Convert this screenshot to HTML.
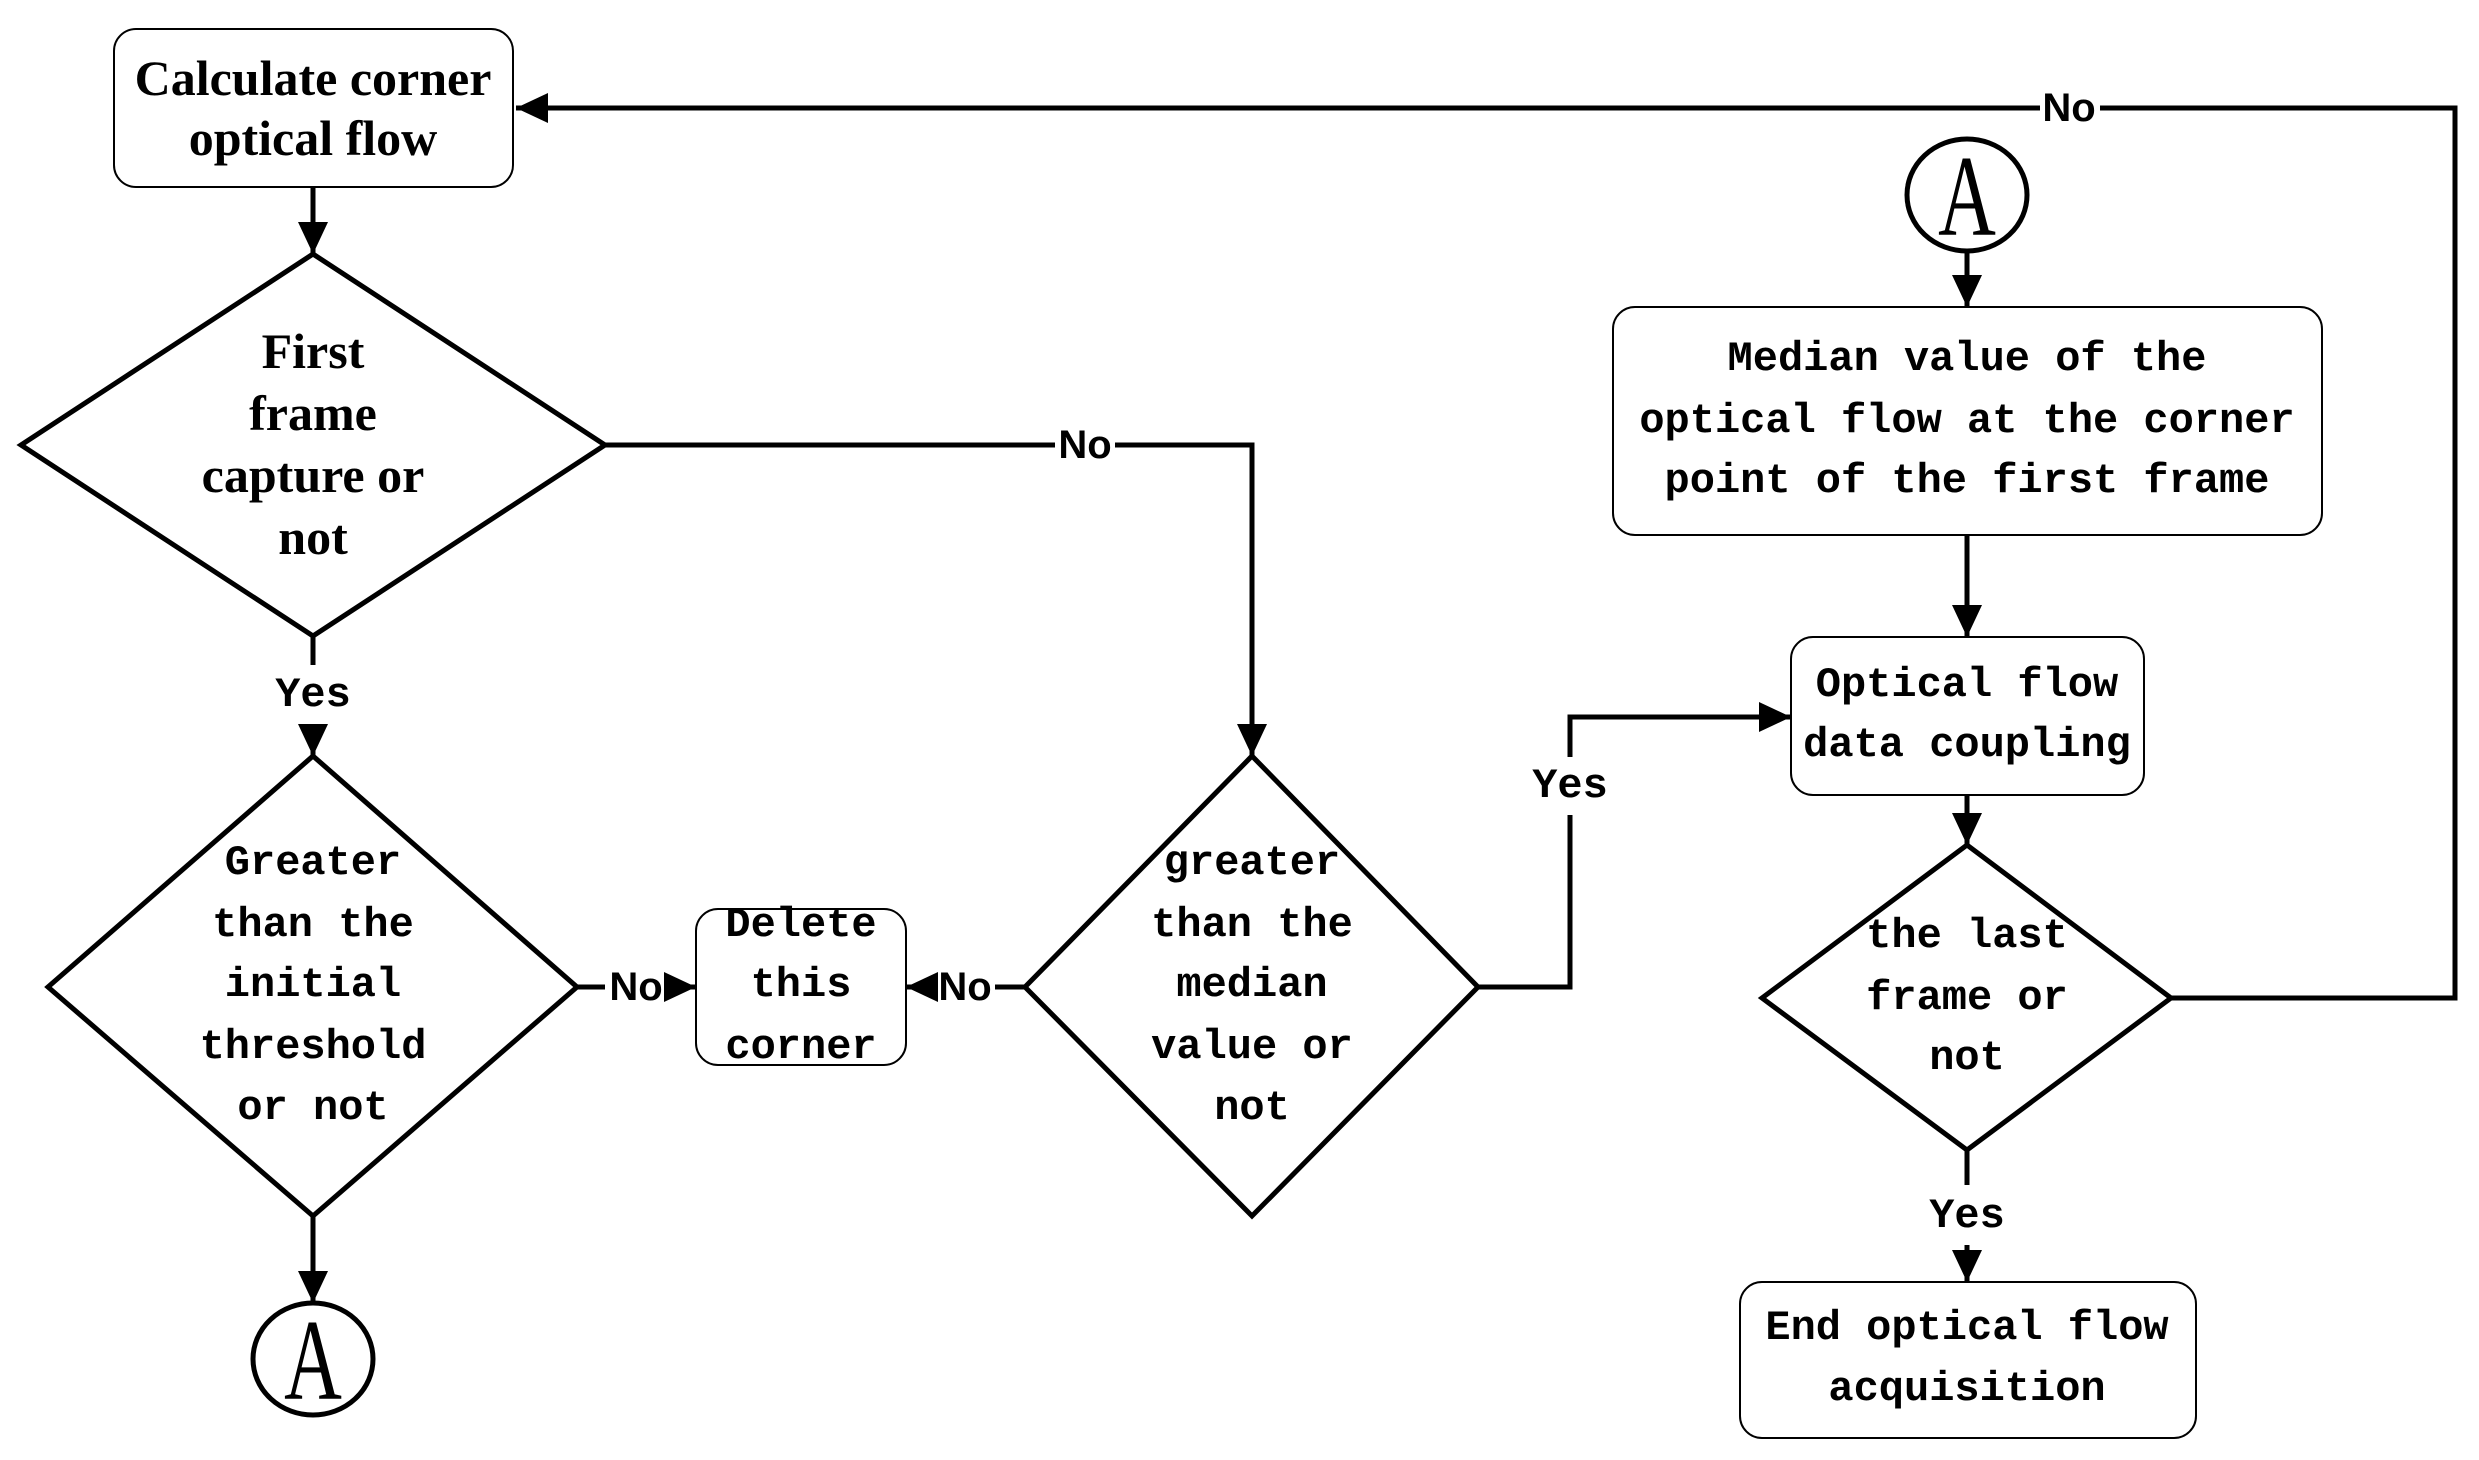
<!DOCTYPE html>
<html><head><meta charset="utf-8"><style>
html,body{margin:0;padding:0;background:#fff}
svg{display:block}
.s{font-family:"Liberation Serif",serif;font-weight:bold;font-size:50px}
.m{font-family:"Liberation Mono",monospace;font-weight:bold;font-size:42px}
.l{font-family:"Liberation Sans",sans-serif;font-weight:bold;font-size:40px}
</style></head><body>
<svg width="2479" height="1460" viewBox="0 0 2479 1460" xmlns="http://www.w3.org/2000/svg">
<defs>
<marker id="b" markerWidth="32" markerHeight="30" refX="32" refY="15" orient="auto" markerUnits="userSpaceOnUse"><path d="M0,0 L32,15 L0,30 z" fill="#000"/></marker></defs>
<g fill="none" stroke="#000" stroke-width="5">
<rect x="114" y="29" width="399" height="158" rx="22" stroke-width="2"/>
<rect x="696" y="909" width="210" height="156" rx="22" stroke-width="2"/>
<rect x="1613" y="307" width="709" height="228" rx="22" stroke-width="2"/>
<rect x="1791" y="637" width="353" height="158" rx="22" stroke-width="2"/>
<rect x="1740" y="1282" width="456" height="156" rx="22" stroke-width="2"/>
<polygon points="313,254 605,445 313,636 21,445"/>
<polygon points="313,756 577,987 313,1216 48,987"/>
<polygon points="1252,756 1478,987 1252,1216 1025,987"/>
<polygon points="1967,845 2171,998 1967,1150 1762,998"/>
<ellipse cx="313" cy="1359" rx="60" ry="56"/>
<ellipse cx="1967" cy="195" rx="60" ry="56"/>
<path d="M2171,998 H2455 V108 H2100 M2040,108 H516" marker-end="url(#b)"/>
<path d="M313,187 V254" marker-end="url(#b)"/>
<path d="M605,445 H1055 M1115,445 H1252 V756" marker-end="url(#b)"/>
<path d="M313,636 V665 M313,725 V756" marker-end="url(#b)"/>
<path d="M313,1216 V1303" marker-end="url(#b)"/>
<path d="M577,987 H605 M666,987 H696" marker-end="url(#b)"/>
<path d="M1025,987 H995 M935,987 H906" marker-end="url(#b)"/>
<path d="M1478,987 H1570 V815 M1570,757 V717 H1791" marker-end="url(#b)"/>
<path d="M1967,251 V307" marker-end="url(#b)"/>
<path d="M1967,535 V637" marker-end="url(#b)"/>
<path d="M1967,795 V845" marker-end="url(#b)"/>
<path d="M1967,1150 V1185 M1967,1245 V1282" marker-end="url(#b)"/>
</g>
<g text-anchor="middle" dominant-baseline="central">
<text class="s" x="313" y="78">Calculate corner</text>
<text class="s" x="313" y="138">optical flow</text>
<text class="s" x="313" y="351">First</text>
<text class="s" x="313" y="413">frame</text>
<text class="s" x="313" y="475">capture or</text>
<text class="s" x="313" y="537">not</text>
<text class="m" x="313" y="863">Greater</text>
<text class="m" x="313" y="925">than the</text>
<text class="m" x="313" y="985">initial</text>
<text class="m" x="313" y="1047">threshold</text>
<text class="m" x="313" y="1108">or not</text>
<text class="m" x="801" y="925">Delete</text>
<text class="m" x="801" y="985">this</text>
<text class="m" x="801" y="1047">corner</text>
<text class="m" x="1252" y="863">greater</text>
<text class="m" x="1252" y="925">than the</text>
<text class="m" x="1252" y="985">median</text>
<text class="m" x="1252" y="1047">value or</text>
<text class="m" x="1252" y="1108">not</text>
<text class="m" x="1967" y="359">Median value of the</text>
<text class="m" x="1967" y="421">optical flow at the corner</text>
<text class="m" x="1967" y="481">point of the first frame</text>
<text class="m" x="1967" y="685">Optical flow</text>
<text class="m" x="1967" y="745">data coupling</text>
<text class="m" x="1967" y="936">the last</text>
<text class="m" x="1967" y="998">frame or</text>
<text class="m" x="1967" y="1058">not</text>
<text class="m" x="1967" y="1328">End optical flow</text>
<text class="m" x="1967" y="1389">acquisition</text>
<text font-family="Liberation Serif,serif" font-size="100" transform="translate(313,1359) scale(0.8,1.15)" x="0" y="2">A</text>
<text font-family="Liberation Serif,serif" font-size="100" transform="translate(1967,195) scale(0.8,1.15)" x="0" y="2">A</text>
<text class="l" x="2069" y="108">No</text>
<text class="l" x="1085" y="445">No</text>
<text class="l" x="636" y="987">No</text>
<text class="l" x="965" y="987">No</text>
<text class="m" x="313" y="695">Yes</text>
<text class="m" x="1570" y="786">Yes</text>
<text class="m" x="1967" y="1216">Yes</text>
</g>
</svg>
</body></html>
